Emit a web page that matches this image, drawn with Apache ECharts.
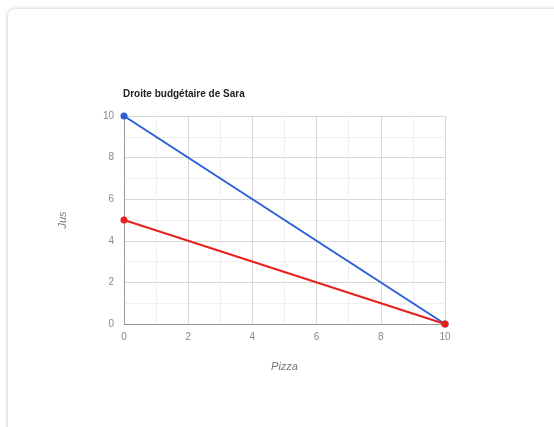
<!DOCTYPE html>
<html><head><meta charset="utf-8">
<script src="https://cdn.jsdelivr.net/npm/echarts@6/dist/echarts.min.js"></script>
<style>
html,body{margin:0;padding:0;background:#fff;width:554px;height:427px;overflow:hidden}
#card{position:absolute;left:8px;top:9px;width:600px;height:480px;border-radius:7px;background:#fff;box-shadow:0 0 4px rgba(0,0,0,0.25)}
#c{position:absolute;left:0;top:0;width:554px;height:427px}
</style></head>
<body><div id="card"></div><div id="c"></div>
<script>
const title = 'Droite budgétaire de Sara';
const xName = 'Pizza';
const yName = 'Jus';
const seriesNames = ['Droite 1', 'Droite 2'];
const pizza1 = [0, 10];
const jus1 = [10, 0];
const pizza2 = [0, 10];
const jus2 = [5, 0];
const colors = ['#2b5fd8', '#e8201a'];

const chart = echarts.init(document.getElementById('c'));
const mk = (xs, ys) => xs.map((x, i) => [x, ys[i]]);
const axisCommon = {
  min: 0, max: 10, interval: 2,
  axisLine: {show: true, lineStyle: {color: '#999', width: 1}},
  axisTick: {show: false},
  axisLabel: {color: '#888', fontSize: 10, fontFamily: 'Arial, Liberation Sans'},
  splitLine: {show: true, lineStyle: {color: '#d8d8d8'}},
  minorTick: {show: false, splitNumber: 2},
  minorSplitLine: {show: true, lineStyle: {color: '#efefef'}},
  nameTextStyle: {color: '#777', fontStyle: 'italic', fontSize: 11, fontFamily: 'Arial, Liberation Sans'}
};
chart.setOption({
  animation: false,
  title: {text: title, left: 118, top: 84, textStyle: {fontSize: 10, fontWeight: 'bold', color: '#222', fontFamily: 'Arial, Liberation Sans'}},
  grid: {left: 124, right: 109, top: 116, bottom: 103, containLabel: false},
  xAxis: Object.assign({}, axisCommon, {type: 'value', name: xName, nameLocation: 'middle', nameGap: 37,
    axisLabel: Object.assign({}, axisCommon.axisLabel, {margin: 8})}),
  yAxis: Object.assign({}, axisCommon, {type: 'value', name: yName, nameLocation: 'middle', nameGap: 56, nameRotate: 90,
    axisLabel: Object.assign({}, axisCommon.axisLabel, {margin: 10})}),
  series: [
    {name: seriesNames[0], type: 'line', data: mk(pizza1, jus1), color: colors[0], symbol: 'circle', symbolSize: 7, lineStyle: {width: 2}, z: 2},
    {name: seriesNames[1], type: 'line', data: mk(pizza2, jus2), color: colors[1], symbol: 'circle', symbolSize: 7, lineStyle: {width: 2}, z: 3}
  ]
});
</script></body></html>
